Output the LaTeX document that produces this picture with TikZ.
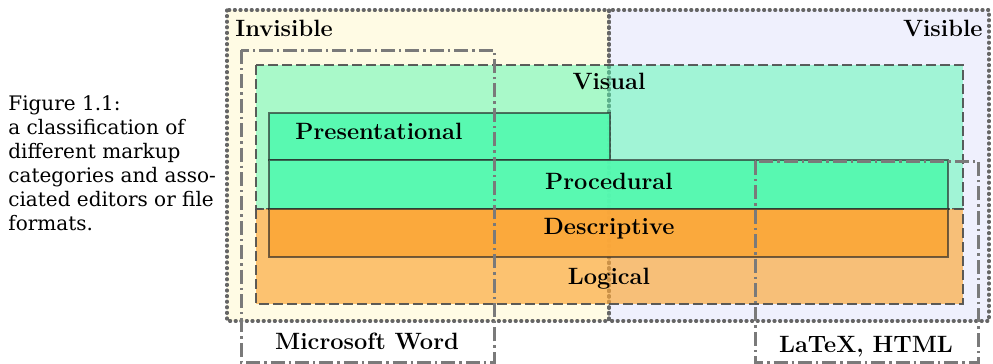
\documentclass[tikz,border=0pt]{standalone}
\usepackage{fontspec}
\newfontfamily\capfont{DejaVu Serif}
\definecolor{invfill}{HTML}{FFFBE4}
\definecolor{visfill}{HTML}{EFF0FD}
\definecolor{grn}{HTML}{55F9B0}
\definecolor{org}{HTML}{FBA83A}
\definecolor{dotgray}{HTML}{666666}
\begin{document}
\begin{tikzpicture}[x=0.5pt,y=-0.5pt,
  zone/.style={draw=dotgray,line width=1.6pt,dash pattern=on 0.5pt off 2.3pt,line cap=round},
  catbox/.style={draw=black!70,draw opacity=0.9,line width=1.3pt,dash pattern=on 5pt off 2pt},
  kindbox/.style={draw=black!85,draw opacity=0.65,line width=1.3pt},
  toolbox/.style={draw=black!52,line width=1.5pt,dash pattern=on 7pt off 2pt on 1.2pt off 2pt},
  lbl/.style={font=\fontsize{11.8}{14}\selectfont\bfseries,inner sep=0pt}]
\useasboundingbox (0,0) rectangle (993,364);
% zones
\fill[invfill] (227,10) rectangle (609,321);
\fill[visfill] (609,10) rectangle (989,321);
\draw[zone] (227,10) rectangle (609,321);
\draw[zone] (609,10) rectangle (989,321);
% categories
\path[catbox,fill=grn,fill opacity=0.5] (256,65) rectangle (963,209);
\path[catbox,fill=org,fill opacity=0.68] (256,209) rectangle (963,304);
% kinds
\path[kindbox,fill=grn,fill opacity=0.95] (269,113) rectangle (610,160);
\path[kindbox,fill=grn,fill opacity=0.95] (269,160) rectangle (948,209);
\path[kindbox,fill=org,fill opacity=0.95] (269,209) rectangle (948,257);
% tools
\draw[toolbox] (241,50) rectangle (494,362);
\draw[toolbox] (755,161) rectangle (978,362);
% labels
\node[lbl,anchor=west] (inv) at (235,28) {Invisible};
\node[lbl,anchor=east] (vis) at (983,28) {Visible};
\node[lbl] (visual) at (609,81) {Visual};
\node[lbl] (pres) at (379,131) {Presentational};
\node[lbl] (proc) at (609,181) {Procedural};
\node[lbl] (desc) at (609,229) {Descriptive};
\node[lbl] (logi) at (609,279) {Logical};
\node[lbl] (word) at (367,341) {Microsoft Word};
\node[lbl] (latex) at (866,347) {LaTeX, HTML};
% caption
\node[anchor=north west,align=left,inner sep=0pt,font=\capfont\fontsize{10}{12}\selectfont] (cap) at (8,95)
  {Figure 1.1:\\a classification of\\different markup\\categories and asso-\\ciated editors or file\\formats.};
\end{tikzpicture}
\end{document}
